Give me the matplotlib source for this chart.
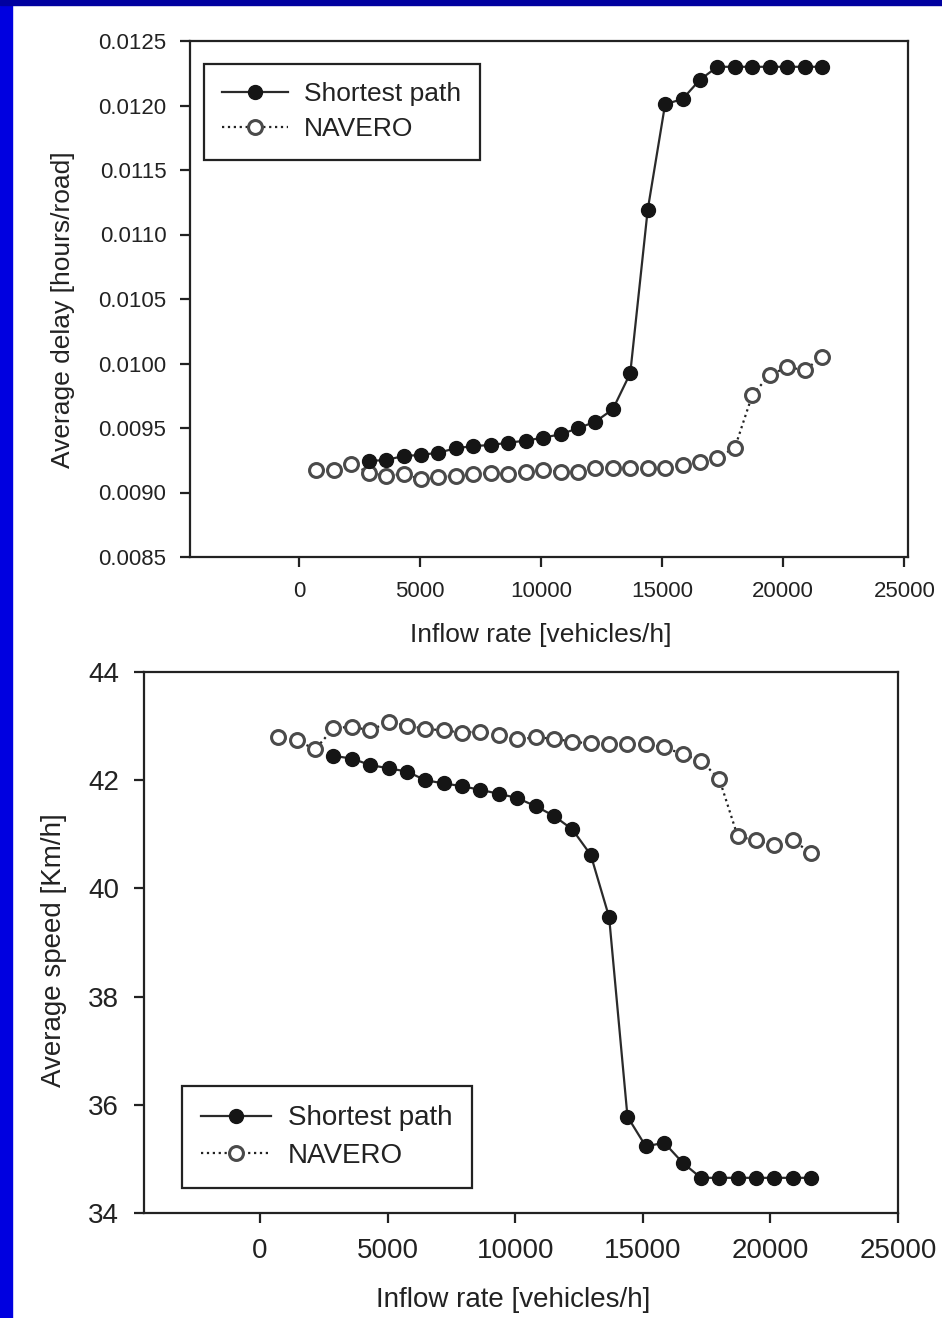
import numpy as np
import matplotlib
matplotlib.use("Agg")
import matplotlib.pyplot as plt
from matplotlib.patches import Rectangle

plt.rcParams['font.family'] = ['Liberation Sans', 'DejaVu Sans']

# inflow rate [vehicles/h]
inflow = [720, 1440, 2160, 2880, 3600, 4320, 5040, 5760, 6480, 7200,
          7920, 8640, 9360, 10080, 10800, 11520, 12240, 12960, 13680, 14400,
          15120, 15840, 16560, 17280, 18000, 18720, 19440, 20160, 20880, 21600]
inflow_sp = inflow[3:]

# average delay [hours/road]
delay_sp = [0.009244, 0.009252, 0.009283, 0.009291, 0.009309, 0.009343, 0.009360,
            0.009368, 0.009386, 0.009402, 0.009425, 0.009451, 0.009498, 0.009549,
            0.009645, 0.009924, 0.01119, 0.01201, 0.01205, 0.01220,
            0.01230, 0.01230, 0.01230, 0.01230, 0.01230, 0.01230, 0.01230]
delay_nav = [0.009174, 0.009174, 0.009219, 0.009154, 0.009130, 0.009143, 0.009102,
             0.009118, 0.009128, 0.009141, 0.009149, 0.009143, 0.009161, 0.009174,
             0.009161, 0.009161, 0.009187, 0.009187, 0.009192, 0.009192, 0.009192,
             0.009213, 0.009238, 0.009270, 0.009347, 0.009756, 0.009911, 0.009971,
             0.009950, 0.010048]

# average speed [Km/h]
speed_sp = [42.45, 42.40, 42.28, 42.22, 42.16, 42.00, 41.94, 41.89, 41.82, 41.75,
            41.67, 41.52, 41.34, 41.09, 40.62, 39.47, 35.78, 35.23, 35.30, 34.93,
            34.65, 34.65, 34.65, 34.65, 34.65, 34.65, 34.65]
speed_nav = [42.79, 42.74, 42.57, 42.96, 42.99, 42.92, 43.08, 43.01, 42.95, 42.92,
             42.88, 42.90, 42.84, 42.76, 42.79, 42.77, 42.71, 42.68, 42.67, 42.67,
             42.67, 42.61, 42.48, 42.36, 42.02, 40.96, 40.89, 40.80, 40.89, 40.65]

xticks = [0, 5000, 10000, 15000, 20000, 25000]
W, H = 942, 1318
txt = '#222222'

fig = plt.figure(figsize=(W / 100, H / 100), dpi=100)
fig.patch.set_facecolor('white')
# blue slide border
fig.patches.append(Rectangle((0, 0), 12 / W, 1, transform=fig.transFigure,
                             color='#0000e0', zorder=0))
fig.patches.append(Rectangle((0, 1 - 5 / H), 1, 5 / H, transform=fig.transFigure,
                             color='#0000a0', zorder=0))


def style(ax, fs, tlen, pad):
    for s in ax.spines.values():
        s.set_linewidth(1.6)
        s.set_color('#222222')
    ax.tick_params(direction='out', length=tlen, width=1.6, labelsize=fs,
                   pad=pad, colors=txt, top=False, right=False)


def draw(ax, x1, y1, x2, y2, ms):
    ax.plot(x2, y2, linestyle=':', color='#222222', lw=1.6, marker='o', ms=ms,
            mfc='white', mec='#4a4a4a', mew=2.2, label='NAVERO', zorder=2)
    ax.plot(x1, y1, linestyle='-', color='#2a2a2a', lw=1.6, marker='o', ms=ms,
            mfc='#151515', mec='#151515', label='Shortest path', zorder=3)


def legend(ax, fs, x0, y0):
    h, l = ax.get_legend_handles_labels()
    leg = ax.legend(h[::-1], l[::-1], loc='upper left', fontsize=fs,
                    bbox_to_anchor=(x0 / W, 1 - y0 / H), bbox_transform=fig.transFigure,
                    borderaxespad=0, fancybox=False, edgecolor='#222222',
                    handlelength=2.5, handletextpad=0.6, borderpad=0.7,
                    labelspacing=0.4, framealpha=1)
    leg.get_frame().set_linewidth(1.6)
    for t in leg.get_texts():
        t.set_color(txt)


# ---- top: average delay
ax1 = fig.add_axes([190 / W, 1 - 557 / H, 718 / W, 516 / H])
draw(ax1, inflow_sp, delay_sp, inflow, delay_nav, 10)
ax1.set_xlim(-4500, 25150)
ax1.set_ylim(0.0085, 0.0125)
ax1.set_xticks(xticks)
ax1.set_yticks(np.arange(0.0085, 0.01251, 0.0005))
ax1.set_yticklabels(['%.4f' % v for v in np.arange(0.0085, 0.01251, 0.0005)])
style(ax1, 16, 7, 10)
ax1.set_xlabel('Inflow rate [vehicles/h]', fontsize=19, color=txt)
ax1.xaxis.set_label_coords(0.489, -0.128)
ax1.set_ylabel('Average delay [hours/road]', fontsize=19, color=txt)
ax1.yaxis.set_label_coords(-0.16, 0.479)
legend(ax1, 19, 204, 64)

# ---- bottom: average speed
ax2 = fig.add_axes([144 / W, 1 - 1213 / H, 754 / W, 541 / H])
draw(ax2, inflow_sp, speed_sp, inflow, speed_nav, 10)
ax2.set_xlim(-4545, 25000)
ax2.set_ylim(34, 44)
ax2.set_xticks(xticks)
ax2.set_yticks([34, 36, 38, 40, 42, 44])
style(ax2, 20, 7, 11)
ax2.set_xlabel('Inflow rate [vehicles/h]', fontsize=20, color=txt)
ax2.xaxis.set_label_coords(0.489, -0.137)
ax2.set_ylabel('Average speed [Km/h]', fontsize=20, color=txt)
ax2.yaxis.set_label_coords(-0.102, 0.486)
legend(ax2, 20, 182, 1086)

fig.savefig('out.png', dpi=100)
